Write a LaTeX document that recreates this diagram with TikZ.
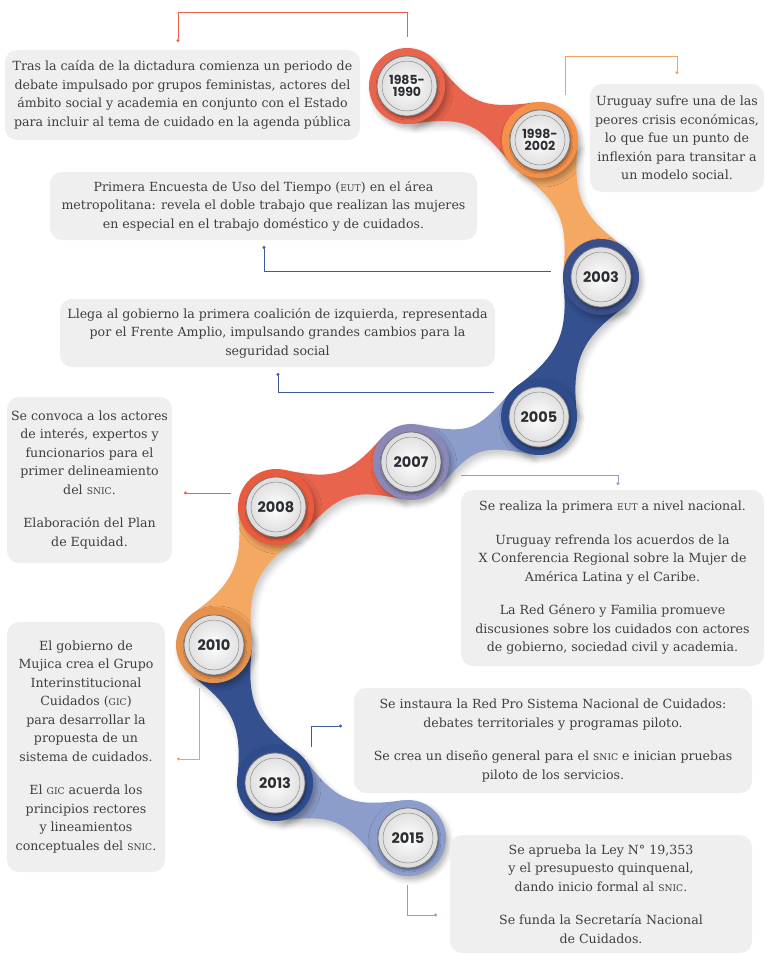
\documentclass[tikz,border=0pt]{standalone}
\usepackage{fontspec}
\setmainfont{DejaVu Serif}
\newfontfamily\anio{Poppins}
\usetikzlibrary{calc,arrows.meta,backgrounds,shadows.blur}

\definecolor{cajagris}{HTML}{EFEFEF}
\definecolor{textogris}{HTML}{3F3F3F}
\definecolor{aniotexto}{HTML}{2B2E33}
% aros de los hitos
\definecolor{rojo}{HTML}{E8644C}
\definecolor{rojovivo}{HTML}{E85B3E}
\definecolor{naranja}{HTML}{F3904A}
\definecolor{naranjaclaro}{HTML}{F5A862}
\definecolor{ocre}{HTML}{E5924F}
\definecolor{azul}{HTML}{394E8B}
\definecolor{azulmedio}{HTML}{34508F}
\definecolor{azulvivo}{HTML}{2E4B8D}
\definecolor{lila}{HTML}{8A88B6}
\definecolor{pervinca}{HTML}{8C9DCB}
% lineas finas
\definecolor{lrojo}{HTML}{E8604A}
\definecolor{lnaranja}{HTML}{F5A060}
\definecolor{lazul}{HTML}{3F58A0}
\definecolor{lpervinca}{HTML}{8E9DCB}

\newcommand\sigla[1]{{\fontsize{9.2}{10}\selectfont #1}}

% tramo de la serpiente entre dos hitos
\newcommand\tramo[3]{%
  \fill[#3, sombra] let \p1=(#1.center), \p2=(#2.center), \n1={atan2(\y2-\y1,\x2-\x1)} in
    ($(#1.center)+(\n1+60:38pt)$) .. controls +(\n1-30:52pt) and +(\n1+210:52pt) .. ($(#2.center)+(\n1+120:38pt)$)
    -- ($(#2.center)+(\n1+240:38pt)$) .. controls +(\n1+150:52pt) and +(\n1+30:52pt) .. ($(#1.center)+(\n1-60:38pt)$)
    -- cycle;}

\begin{document}
\begin{tikzpicture}[x=1pt, y=-1pt,
  caja/.style={fill=cajagris, rounded corners=12pt, text=textogris, align=center, inner sep=0pt,
    font=\fontsize{12.6}{18.5}\selectfont},
  hito/.style={circle, fill=#1, minimum size=76pt, inner sep=0pt,
    blur shadow={shadow xshift=3pt, shadow yshift=-4pt, shadow blur radius=5pt, shadow opacity=30}},
  disco/.style={circle, minimum size=60pt, inner sep=0pt, shading=radial, inner color=white,
    outer color=black!14, draw=black!55, line width=.8pt, text=aniotexto, align=center,
    font=\anio\bfseries\fontsize{14.5}{12.5}\selectfont,
    blur shadow={shadow xshift=1pt, shadow yshift=-2pt, shadow blur radius=2pt, shadow opacity=40},
    path picture={\draw[black!45, line width=.5pt] (path picture bounding box.center) circle (25pt);}},
  sombra/.style={blur shadow={shadow xshift=3pt, shadow yshift=-5pt, shadow blur radius=6pt, shadow opacity=22}},
  linea/.style={draw=#1, line width=.8pt, -{Circle[length=3pt]}}]
  \useasboundingbox (0,0) rectangle (765,955);

  % hitos de la linea de tiempo
  \node[hito=rojo]     (h1985) at (407,86)  {};
  \node[hito=naranja]  (h1998) at (540,140) {};
  \node[hito=azul]     (h2003) at (601,277) {};
  \node[hito=azulvivo] (h2005) at (539,417) {};
  \node[hito=lila]     (h2007) at (411,462) {};
  \node[hito=rojovivo] (h2008) at (276,507) {};
  \node[hito=ocre]     (h2010) at (214,645) {};
  \node[hito=azulvivo] (h2013) at (275,783) {};
  \node[hito=pervinca] (h2015) at (408,838) {};

  \node[disco, font=\anio\bfseries\fontsize{12.5}{12.5}\selectfont] (a1985) at (h1985) {1985-\\1990};
  \node[disco, font=\anio\bfseries\fontsize{12.5}{12.5}\selectfont] (a1998) at (h1998) {1998-\\2002};
  \node[disco] (a2003) at (h2003) {2003};
  \node[disco] (a2005) at (h2005) {2005};
  \node[disco] (a2007) at (h2007) {2007};
  \node[disco] (a2008) at (h2008) {2008};
  \node[disco] (a2010) at (h2010) {2010};
  \node[disco] (a2013) at (h2013) {2013};
  \node[disco] (a2015) at (h2015) {2015};

  \begin{scope}[on background layer]
    \tramo{h1985}{h1998}{rojo}
    \tramo{h1998}{h2003}{naranjaclaro}
    \tramo{h2003}{h2005}{azulmedio}
    \tramo{h2005}{h2007}{pervinca}
    \tramo{h2007}{h2008}{rojo}
    \tramo{h2008}{h2010}{naranjaclaro}
    \tramo{h2010}{h2013}{azulmedio}
    \tramo{h2013}{h2015}{pervinca}
  \end{scope}

  % textos
  \node[caja, minimum width=355pt, minimum height=90pt] (t1985) at (182.5,95)
    {Tras la caída de la dictadura comienza un periodo de\\debate impulsado por grupos feministas, actores del\\ámbito social y academia en conjunto con el Estado\\para incluir al tema de cuidado en la agenda pública};
  \node[caja, minimum width=174pt, minimum height=108pt] (t1998) at (677,138)
    {Uruguay sufre una de las\\peores crisis económicas,\\lo que fue un punto de\\inflexión para transitar a\\un modelo social.};
  \node[caja, minimum width=427pt, minimum height=68pt] (t2003) at (263.5,206)
    {Primera Encuesta de Uso del Tiempo (\sigla{EUT}) en el área\\metropolitana: revela el doble trabajo que realizan las mujeres\\en especial en el trabajo doméstico y de cuidados.};
  \node[caja, minimum width=435pt, minimum height=68pt] (t2005) at (277.5,333)
    {Llega al gobierno la primera coalición de izquierda, representada\\por el Frente Amplio, impulsando grandes cambios para la\\seguridad social};
  \node[caja, minimum width=303pt, minimum height=176pt] (t2007) at (612.5,578)
    {Se realiza la primera \sigla{EUT} a nivel nacional.\\[15pt]Uruguay refrenda los acuerdos de la\\X Conferencia Regional sobre la Mujer de\\América Latina y el Caribe.\\[15pt]La Red Género y Familia promueve\\discusiones sobre los cuidados con actores\\de gobierno, sociedad civil y academia.};
  \node[caja, minimum width=165pt, minimum height=166pt] (t2008) at (89.5,480)
    {Se convoca a los actores\\de interés, expertos y\\funcionarios para el\\primer delineamiento\\del \sigla{SNIC}.\\[15pt]Elaboración del Plan\\de Equidad.};
  \node[caja, minimum width=158pt, minimum height=250pt] (t2010) at (86,747)
    {El gobierno de\\Mujica crea el Grupo\\Interinstitucional\\Cuidados (\sigla{GIC})\\para desarrollar la\\propuesta de un\\sistema de cuidados.\\[15pt]El \sigla{GIC} acuerda los\\principios rectores\\y lineamientos\\conceptuales del \sigla{SNIC}.};
  \node[caja, minimum width=398pt, minimum height=105pt] (t2013) at (553,740.5)
    {Se instaura la Red Pro Sistema Nacional de Cuidados:\\debates territoriales y programas piloto.\\[15pt]Se crea un diseño general para el \sigla{SNIC} e inician pruebas\\piloto de los servicios.};
  \node[caja, minimum width=302pt, minimum height=118pt] (t2015) at (601,894)
    {Se aprueba la Ley N° 19,353\\y el presupuesto quinquenal,\\dando inicio formal al \sigla{SNIC}.\\[15pt]Se funda la Secretaría Nacional\\de Cuidados.};

  % lineas de referencia
  \coordinate (d1985) at (178,42);
  \coordinate (d1998) at (677,74);
  \coordinate (d2003) at (264,246);
  \coordinate (d2005) at (278,373);
  \coordinate (d2007) at (618,485);
  \coordinate (d2008) at (184,493);
  \coordinate (d2010) at (177,759);
  \coordinate (d2013) at (342,726);
  \coordinate (d2015) at (437,915);
  \draw[linea=lrojo] ($(h1985.north)+(0,-11)$) -- ++(0,-24) -| (d1985);
  \draw[linea=lnaranja] ($(h1998.north)+(25,-7)$) -- ++(0,-38) -| (d1998);
  \draw[linea=lazul] ($(h2003.west)+(-12,-6)$) -| (d2003);
  \draw[linea=lazul] ($(h2005.west)+(-7,-25)$) -| (d2005);
  \draw[linea=lpervinca] ($(h2007.east)+(12,13)$) -| (d2007);
  \draw[linea=lrojo] ($(h2008.west)+(-7,-14)$) -- (d2008);
  \draw[linea=lnaranja] ($(h2010.south)+(-15,5)$) |- (d2010);
  \draw[linea=lazul] ($(h2013.north)+(36,2)$) |- (d2013);
  \draw[linea=lpervinca] ($(h2015.south)+(-1,9)$) |- (d2015);
\end{tikzpicture}
\end{document}
